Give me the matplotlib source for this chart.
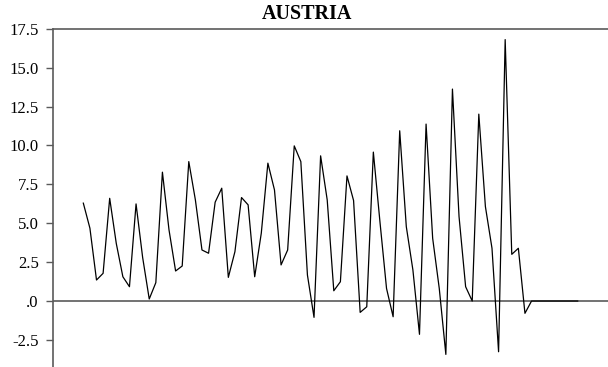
import numpy as np
import matplotlib
matplotlib.use("Agg")
import matplotlib.pyplot as plt

plt.rcParams['font.family'] = ['Liberation Serif', 'DejaVu Serif']

title = "AUSTRIA"

# quarterly observations
values = [
    6.29, 4.68, 1.35, 1.78,
    6.60, 3.70, 1.56, 0.92,
    6.24, 2.80, 0.13, 1.18,
    8.28, 4.57, 1.93, 2.25,
    8.96, 6.50, 3.28, 3.07,
    6.35, 7.25, 1.52, 3.17,
    6.65, 6.18, 1.56, 4.36,
    8.86, 7.14, 2.32, 3.28,
    9.97, 8.96, 1.67, -1.05,
    9.33, 6.50, 0.66, 1.24,
    8.04, 6.46, -0.73, -0.37,
    9.57, 5.10, 0.81, -1.01,
    10.94, 4.78, 2.00, -2.14,
    11.37, 4.03, 0.81, -3.43,
    13.62, 5.43, 0.92, 0.00,
    12.01, 6.07, 3.39, -3.26,
    16.80, 3.00, 3.39, -0.79,
    0.00, 0.00, 0.00, 0.00,
    0.00, 0.00, 0.00, 0.00,
]
periods = np.arange(len(values))

y_ticks = [-2.5, 0.0, 2.5, 5.0, 7.5, 10.0, 12.5, 15.0, 17.5]
y_tick_labels = ["-2.5", ".0", "2.5", "5.0", "7.5", "10.0", "12.5", "15.0", "17.5"]

fig = plt.figure(figsize=(6.08, 3.67), dpi=100)
ax = fig.add_axes([53 / 608, 0.0, 1 - 53 / 608, 1 - 28.7 / 367])

axis_grey = "#5a5a5a"
ax.axhline(0, color=axis_grey, lw=1.2, zorder=1)
ax.plot(periods, values, color="black", lw=0.9, zorder=2)

ax.set_xlim(-4.6, len(values) - 1 + 4.6)
ax.set_ylim(-4.24, 17.5)

ax.set_yticks(y_ticks)
ax.set_yticklabels(y_tick_labels, fontsize=12)
ax.set_xticks([])
ax.tick_params(axis='y', direction='out', length=5.3, width=1.0,
               color=axis_grey, pad=5)

for side in ("right", "bottom"):
    ax.spines[side].set_visible(False)
for side in ("left", "top"):
    ax.spines[side].set_color(axis_grey)
    ax.spines[side].set_linewidth(1.2)

fig.text(307 / 608, 1 - 14 / 367, title, ha="center", va="center",
         fontsize=14.5, fontweight="bold")

fig.savefig("out.png", dpi=100)
